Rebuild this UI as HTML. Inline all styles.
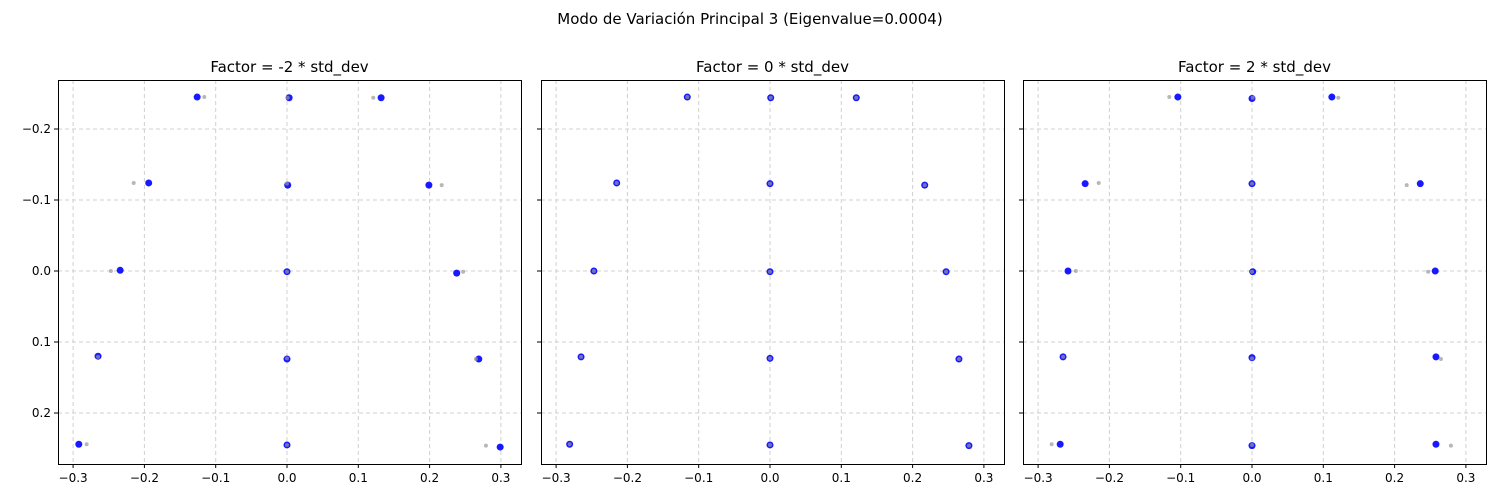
<!DOCTYPE html>
<html><head><meta charset="utf-8"><style>
body{margin:0;background:#fff;}
svg{display:block;font-family:"DejaVu Sans","Liberation Sans",sans-serif;}
</style></head><body>
<svg id="fig" width="1500" height="500" viewBox="0 0 1500 500">
<text x="750" y="24" text-anchor="middle" font-size="15">Modo de Variación Principal 3 (Eigenvalue=0.0004)</text>
</svg>
<script>
const panelTitles=["Factor = -2 * std_dev","Factor = 0 * std_dev","Factor = 2 * std_dev"];
const xTicks=[-0.3,-0.2,-0.1,0.0,0.1,0.2,0.3];
const xTickLabels=["−0.3","−0.2","−0.1","0.0","0.1","0.2","0.3"];
const yTicks=[-0.2,-0.1,0.0,0.1,0.2];
const yTickLabels=["−0.2","−0.1","0.0","0.1","0.2"];
const meanX=[-0.116,0.001,0.121,-0.215,0,0.217,-0.247,0,0.247,-0.265,0,0.265,-0.281,0,0.279];
const meanY=[-0.245,-0.244,-0.244,-0.124,-0.123,-0.121,0,0.001,0.001,0.121,0.123,0.124,0.244,0.245,0.246];
const minusX=[-0.126,0.003,0.132,-0.194,0.001,0.199,-0.234,0,0.238,-0.265,0,0.269,-0.292,0,0.299];
const minusY=[-0.245,-0.244,-0.244,-0.124,-0.121,-0.121,-0.001,0.001,0.003,0.120,0.124,0.124,0.244,0.245,0.248];
const plusX=[-0.104,0,0.112,-0.234,0,0.236,-0.258,0.001,0.257,-0.265,0,0.258,-0.269,0,0.258];
const plusY=[-0.245,-0.243,-0.245,-0.123,-0.123,-0.123,0,0.001,0,0.121,0.122,0.121,0.244,0.246,0.244];
const seriesX=[minusX,meanX,plusX];
const seriesY=[minusY,meanY,plusY];
const NS="http://www.w3.org/2000/svg";
const svg=document.getElementById('fig');
const lefts=[58,541,1023],W=463,top0=80,H=384;
function mk(tag,attrs,parent){const e=document.createElementNS(NS,tag);for(const k in attrs)e.setAttribute(k,attrs[k]);(parent||svg).appendChild(e);return e;}
for(let p=0;p<3;p++){
  const L=lefts[p];
  const sx=v=>L+229+v*713;
  const sy=v=>271+v*710;
  const g=mk('g',{});
  
  
  const t=mk('text',{x:L+W/2,y:72,'text-anchor':'middle','font-size':15},g);t.textContent=panelTitles[p];
  
  
  xTicks.forEach((v,i)=>{
    const x=sx(v);
    const gl=mk('line',{x1:x,x2:x,y1:top0,y2:top0+H,stroke:'#d0d0d0','stroke-dasharray':'4,3','stroke-width':1},g);
    
    
    mk('line',{x1:x,x2:x,y1:top0+H,y2:top0+H+4,stroke:'#000'},g);
    const tl=mk('text',{x:x,y:top0+H+18,'text-anchor':'middle','font-size':12},g);tl.textContent=xTickLabels[i];
    
    
  });
  yTicks.forEach((v,i)=>{
    const y=sy(v);
    const gl=mk('line',{x1:L,x2:L+W,y1:y,y2:y,stroke:'#d0d0d0','stroke-dasharray':'4,3','stroke-width':1},g);
    
    
    mk('line',{x1:L-4,x2:L,y1:y,y2:y,stroke:'#000'},g);
    if(p===0){const tl=mk('text',{x:L-7,y:y+4,'text-anchor':'end','font-size':12},g);tl.textContent=yTickLabels[i];
    
    }
  });
  const fr=mk('rect',{x:L+0.5,y:top0+0.5,width:W,height:H,fill:'none',stroke:'#000','stroke-width':1},g);
  
  
  for(let i=0;i<seriesX[p].length;i++){
    const c=mk('circle',{cx:sx(seriesX[p][i]),cy:sy(seriesY[p][i]),r:3.5,fill:'#0000ff','fill-opacity':0.9},g);
    
    
  }
  for(let i=0;i<meanX.length;i++){
    const c=mk('circle',{cx:sx(meanX[i]),cy:sy(meanY[i]),r:2,fill:'#999','fill-opacity':0.7},g);
    
    
  }
}
</script>
</body></html>
